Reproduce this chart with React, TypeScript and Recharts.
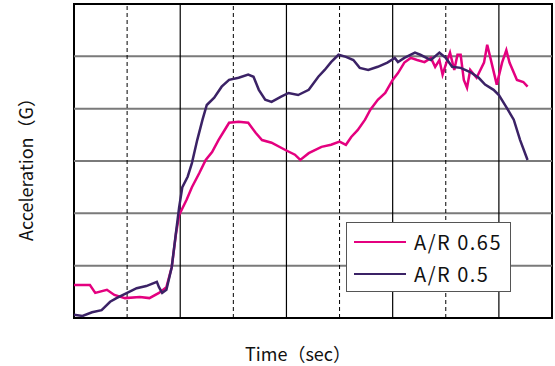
import { LineChart, Line, XAxis, YAxis, ReferenceLine, ReferenceArea } from "recharts";

const AR065_TIME = [0, 0.15, 0.2, 0.31, 0.38, 0.48, 0.62, 0.71, 0.8, 0.87, 0.92, 0.96, 0.99, 1.06, 1.11, 1.18, 1.24, 1.3, 1.36, 1.43, 1.46, 1.55, 1.64, 1.71, 1.77, 1.86, 1.99, 2.08, 2.13, 2.21, 2.33, 2.42, 2.5, 2.56, 2.61, 2.67, 2.74, 2.79, 2.86, 2.93, 3.0, 3.05, 3.11, 3.17, 3.23, 3.3, 3.36, 3.4, 3.44, 3.47, 3.5, 3.54, 3.58, 3.61, 3.64, 3.67, 3.7, 3.73, 3.79, 3.86, 3.89, 3.92, 3.98, 4.03, 4.07, 4.1, 4.17, 4.23, 4.27];
const AR065_ACCEL = [0.63, 0.63, 0.48, 0.54, 0.44, 0.38, 0.4, 0.38, 0.48, 0.59, 0.97, 1.61, 1.97, 2.26, 2.5, 2.77, 3.02, 3.17, 3.4, 3.63, 3.73, 3.75, 3.73, 3.54, 3.4, 3.35, 3.21, 3.12, 3.02, 3.15, 3.27, 3.31, 3.37, 3.31, 3.46, 3.59, 3.79, 3.98, 4.17, 4.3, 4.55, 4.68, 4.88, 4.97, 4.93, 4.89, 4.97, 4.8, 4.93, 4.65, 4.84, 5.07, 4.74, 5.03, 5.03, 4.55, 4.4, 4.74, 4.59, 4.88, 5.22, 4.97, 4.46, 4.88, 5.12, 4.88, 4.55, 4.51, 4.42];

const AR05_TIME = [0, 0.08, 0.17, 0.26, 0.34, 0.4, 0.5, 0.59, 0.68, 0.78, 0.8, 0.83, 0.87, 0.92, 0.96, 0.99, 1.02, 1.07, 1.11, 1.16, 1.21, 1.25, 1.32, 1.39, 1.46, 1.55, 1.64, 1.69, 1.74, 1.8, 1.86, 1.95, 2.02, 2.11, 2.21, 2.3, 2.36, 2.42, 2.49, 2.56, 2.63, 2.69, 2.77, 2.86, 2.95, 3.02, 3.05, 3.11, 3.21, 3.26, 3.36, 3.44, 3.5, 3.56, 3.64, 3.73, 3.81, 3.87, 3.95, 4.0, 4.07, 4.14, 4.2, 4.27];
const AR05_ACCEL = [0.06, 0.04, 0.11, 0.15, 0.31, 0.38, 0.48, 0.57, 0.61, 0.69, 0.59, 0.48, 0.54, 0.97, 1.63, 2.12, 2.5, 2.7, 2.96, 3.4, 3.79, 4.07, 4.21, 4.42, 4.55, 4.59, 4.65, 4.61, 4.36, 4.17, 4.13, 4.23, 4.3, 4.26, 4.36, 4.61, 4.74, 4.89, 5.03, 4.99, 4.93, 4.78, 4.74, 4.8, 4.88, 4.97, 4.89, 4.97, 5.07, 5.03, 4.93, 5.07, 4.97, 4.8, 4.78, 4.7, 4.59, 4.46, 4.36, 4.26, 4.03, 3.79, 3.4, 3.02];

const X_GRID = [0.5, 1, 1.5, 2, 2.5, 3, 3.5, 4];
const Y_GRID = [1, 2, 3, 4, 5];

const PINK = "#e4007f";
const PURPLE = "#3b2266";
const FONT = "'Noto Sans CJK JP', 'Noto Sans', sans-serif";

const ar065 = AR065_TIME.map((t, i) => ({ t, g: AR065_ACCEL[i] }));
const ar05 = AR05_TIME.map((t, i) => ({ t, g: AR05_ACCEL[i] }));

const SERIES = [
  { name: "A/R 0.65", color: PINK },
  { name: "A/R 0.5", color: PURPLE },
];

// legend sits inside the plot, bottom right, over the grid
function LegendBox() {
  return (
    <div
      style={{
        position: "absolute",
        left: 346,
        top: 222,
        width: 165,
        height: 70,
        boxSizing: "border-box",
        border: "1px solid #555",
        background: "#fff",
        fontFamily: FONT,
        fontSize: 20,
        color: "#111",
        paddingTop: 3,
      }}
    >
      {SERIES.map((s) => (
        <div key={s.name} style={{ display: "flex", alignItems: "center", height: 32 }}>
          <div style={{ width: 52, height: 2, background: s.color, marginLeft: 7, marginRight: 8 }} />
          <span style={{ letterSpacing: 1.5, lineHeight: 1 }}>{s.name}</span>
        </div>
      ))}
    </div>
  );
}

export default function App() {
  return (
    <div style={{ position: "absolute", left: 0, top: 0, width: 555, height: 366, background: "#fff" }}>
      <LineChart width={555} height={366} margin={{ top: 4, right: 3, bottom: 48, left: 74 }}>
        <XAxis type="number" dataKey="t" domain={[0, 4.5]} hide allowDuplicatedCategory={false} />
        <YAxis type="number" domain={[0, 6]} hide />
        {Y_GRID.map((y) => (
          <ReferenceLine key={"h" + y} y={y} stroke="#7a7a7a" strokeWidth={2} />
        ))}
        {X_GRID.map((x, i) => (
          <ReferenceLine
            key={"v" + x}
            x={x}
            stroke="#000"
            strokeWidth={i % 2 === 0 ? 1 : 1.2}
            strokeDasharray={i % 2 === 0 ? "4 3" : undefined}
          />
        ))}
        <Line data={ar065} dataKey="g" name="A/R 0.65" stroke={PINK} strokeWidth={2.5} dot={false} isAnimationActive={false} />
        <Line data={ar05} dataKey="g" name="A/R 0.5" stroke={PURPLE} strokeWidth={2.5} dot={false} isAnimationActive={false} />
        <ReferenceArea x1={0} x2={4.5} y1={0} y2={6} fill="none" stroke="#000" strokeWidth={2} fillOpacity={0} />
      </LineChart>
      <LegendBox />
      <div
        style={{
          position: "absolute",
          left: 25,
          top: 165,
          transform: "translate(-50%, -50%) rotate(-90deg)",
          whiteSpace: "nowrap",
          fontFamily: FONT,
          fontSize: 18,
          color: "#111",
        }}
      >
        Acceleration（G）
      </div>
      <div
        style={{
          position: "absolute",
          left: 298,
          top: 353,
          transform: "translate(-50%, -50%)",
          whiteSpace: "nowrap",
          fontFamily: FONT,
          fontSize: 18,
          color: "#111",
        }}
      >
        Time（sec）
      </div>
    </div>
  );
}
